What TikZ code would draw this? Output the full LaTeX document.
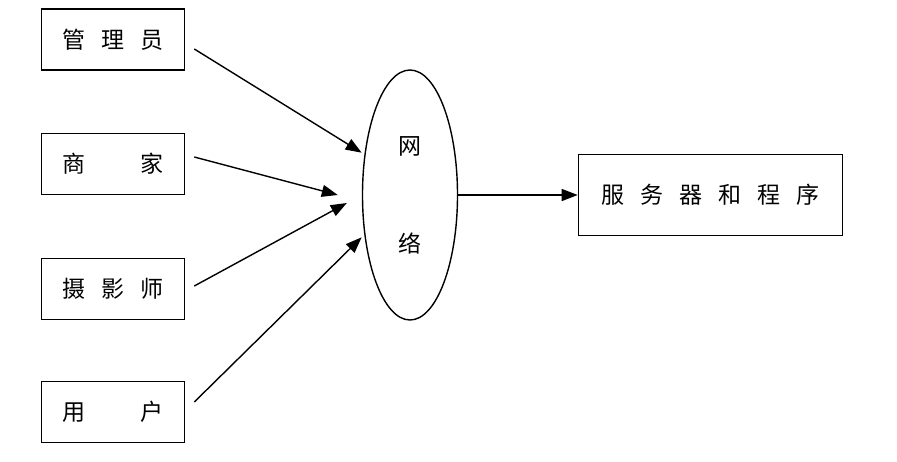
\documentclass[tikz,border=0pt]{standalone}
\usepackage{fontspec}
\newfontfamily\cjk{Noto Sans CJK SC}
\usetikzlibrary{arrows.meta,shapes.geometric,calc}

\tikzset{
  box/.style={draw, line width=1.6pt, inner sep=0pt,
              minimum width=143pt, minimum height=61pt,
              font=\cjk\fontsize{23}{23}\selectfont},
  arr/.style={line width=1.4pt, -{Triangle[length=16pt,width=12pt]}},
}

\begin{document}
\begin{tikzpicture}[x=1pt, y=-1pt]
  \useasboundingbox (0,0) rectangle (897,461);

  % four users on the left
  \foreach \name/\y/\txt in {mgr/39.5/{管\hspace{16pt}理\hspace{16pt}员},
                             shop/164/{商\hspace{55pt}家},
                             photo/289/{摄\hspace{16pt}影\hspace{16pt}师},
                             user/412/{用\hspace{55pt}户}} {
    \node[box] (\name) at (113,\y) {\txt};
  }

  % network in the middle
  \node[ellipse, draw, line width=1.4pt, inner sep=0pt,
        minimum width=95pt, minimum height=250pt, align=center,
        font=\cjk\fontsize{23}{24}\selectfont] (net) at (410,195)
        {网\\[74pt]络};

  % server and programs
  \node[box, minimum width=264pt, minimum height=81pt] (server) at (710.5,195)
        {服\hspace{16pt}务\hspace{16pt}器\hspace{16pt}和\hspace{16pt}程\hspace{16pt}序};

  % users to network
  \draw[arr] ($(mgr.east)+(9,9.5)$) -- ($(net.137)+(-3,0)$);
  \draw[arr] ($(shop.east)+(9,-7)$) -- ($(net.west)+(-24,0)$);
  \draw[arr] ($(photo.east)+(9,-3)$) -- ($(net.west)+(-15,8)$);
  \draw[arr] ($(user.east)+(9,-10)$) -- ($(net.223)+(-3,0)$);

  % network to server
  \draw[arr] (net.east) -- (server.west);
\end{tikzpicture}
\end{document}
